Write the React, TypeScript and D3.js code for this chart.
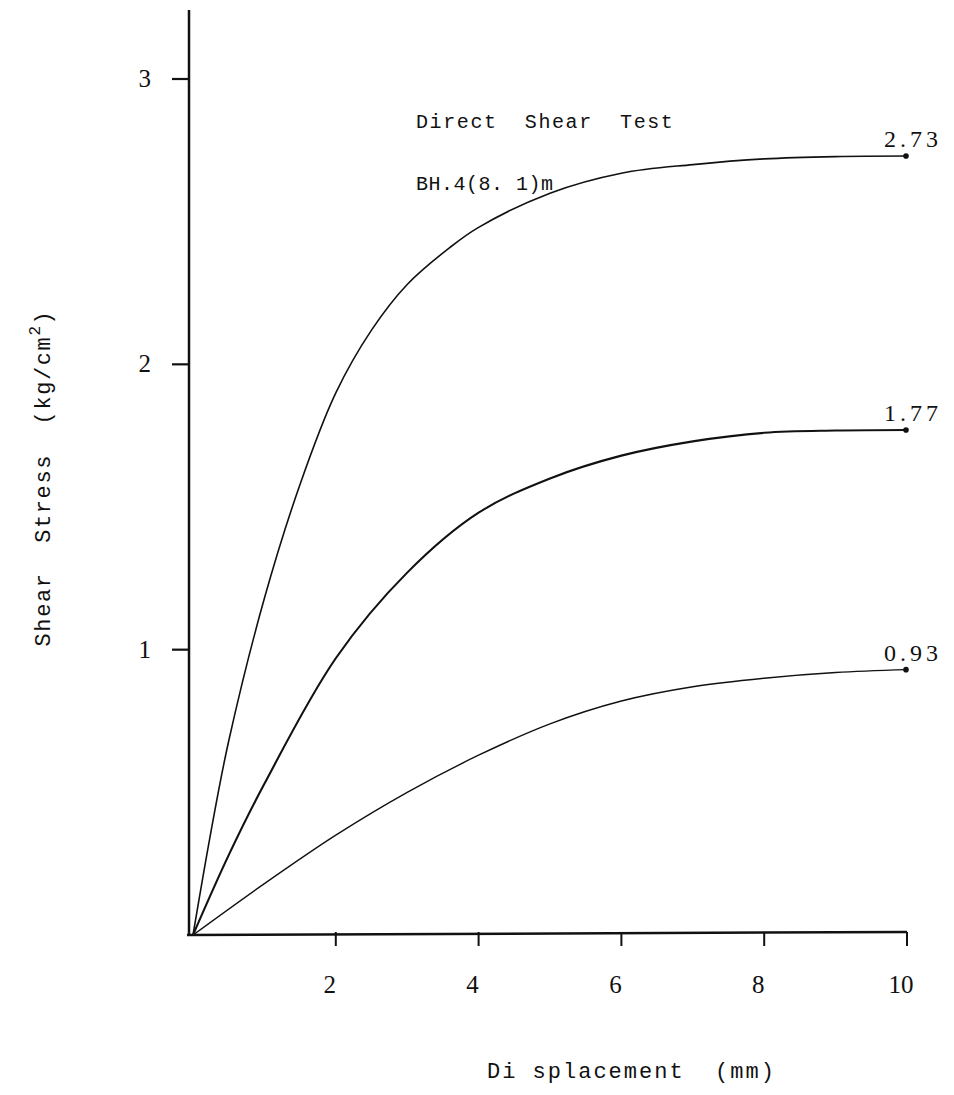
import React, { useEffect, useRef } from 'react';
import * as d3 from 'd3';

// displacement (mm) / shear stress (kg/cm2)
const topX = [0, 0.25, 0.5, 1, 1.5, 2, 2.5, 3, 3.6, 4, 5, 6, 7, 8, 9, 10];
const topY = [0, 0.36, 0.68, 1.18, 1.58, 1.9, 2.12, 2.28, 2.41, 2.48, 2.6, 2.67, 2.7, 2.72, 2.728, 2.73];

const midX = [0, 0.5, 1, 2, 3, 4, 5, 6, 7, 8, 9, 10];
const midY = [0, 0.28, 0.53, 0.97, 1.27, 1.48, 1.6, 1.68, 1.73, 1.76, 1.768, 1.77];

const lowX = [0, 1, 2, 3, 4, 5, 6, 7, 8, 9, 10];
const lowY = [0, 0.18, 0.35, 0.5, 0.63, 0.74, 0.82, 0.87, 0.9, 0.92, 0.93];

const endLabels = ['2.73', '1.77', '0.93'];
const xTicks = [2, 4, 6, 8, 10];
const yTicks = [1, 2, 3];

const W = 954;
const H = 1095;

export default function App() {
  const svgRef = useRef<SVGSVGElement>(null);

  useEffect(() => {
    if (!svgRef.current) return;
    const svg = d3.select(svgRef.current);
    svg.selectAll('*').remove();

    const x = d3.scaleLinear().domain([0, 10]).range([193, 907]);
    const y = d3.scaleLinear().domain([0, 3]).range([935, 79]);

    const ink = '#111';
    const mono = '"Liberation Mono", "Courier New", monospace';
    const serif = '"Liberation Serif", "Times New Roman", serif';

    // axes
    svg.append('line')
      .attr('x1', 189).attr('x2', 189)
      .attr('y1', y(0) + 1).attr('y2', 10)
      .attr('stroke', ink).attr('stroke-width', 2.5);
    svg.append('line')
      .attr('x1', 187).attr('x2', x(10))
      .attr('y1', y(0)).attr('y2', y(0) - 3)
      .attr('stroke', ink).attr('stroke-width', 2.5);

    xTicks.forEach(t => {
      svg.append('line')
        .attr('x1', x(t)).attr('x2', x(t))
        .attr('y1', y(0) - 3).attr('y2', y(0) + 11)
        .attr('stroke', ink).attr('stroke-width', 2);
      svg.append('text')
        .attr('x', x(t) - 6).attr('y', 993)
        .attr('text-anchor', 'middle')
        .style('font-family', serif)
        .style('font-size', '25px')
        .style('fill', ink)
        .text(t);
    });

    yTicks.forEach(t => {
      svg.append('line')
        .attr('x1', 172).attr('x2', 189)
        .attr('y1', y(t)).attr('y2', y(t))
        .attr('stroke', ink).attr('stroke-width', 2.2);
      svg.append('text')
        .attr('x', 151).attr('y', y(t) + 8)
        .attr('text-anchor', 'end')
        .style('font-family', serif)
        .style('font-size', '25px')
        .style('fill', ink)
        .text(t);
    });

    // curves
    const series = [
      { xs: topX, ys: topY, w: 1.6 },
      { xs: midX, ys: midY, w: 2.1 },
      { xs: lowX, ys: lowY, w: 1.4 },
    ];
    const line = d3.line<[number, number]>()
      .x(d => x(d[0]))
      .y(d => y(d[1]))
      .curve(d3.curveCatmullRom.alpha(0.5));

    series.forEach((s, i) => {
      const pts = s.xs.map((v, j) => [v, s.ys[j]] as [number, number]);
      svg.append('path')
        .attr('d', line(pts))
        .attr('fill', 'none')
        .attr('stroke', ink)
        .attr('stroke-width', s.w);
      const last = pts[pts.length - 1];
      svg.append('circle')
        .attr('cx', x(last[0]) - 1).attr('cy', y(last[1]))
        .attr('r', 2.8).attr('fill', ink);
      svg.append('text')
        .attr('x', 884).attr('y', y(last[1]) - 9)
        .style('font-family', serif)
        .style('font-size', '24px')
        .style('letter-spacing', '4px')
        .style('fill', ink)
        .text(endLabels[i]);
    });

    // annotations
    svg.append('text')
      .attr('x', 416).attr('y', 128)
      .style('font-family', mono)
      .style('font-size', '20px')
      .style('letter-spacing', '1.6px')
      .style('fill', ink)
      .attr('xml:space', 'preserve')
      .text('Direct  Shear  Test');
    svg.append('text')
      .attr('x', 416).attr('y', 190)
      .style('font-family', mono)
      .style('font-size', '20px')
      .style('letter-spacing', '0.5px')
      .style('fill', ink)
      .attr('xml:space', 'preserve')
      .text('BH.4(8. 1)m');

    svg.append('text')
      .attr('x', 487).attr('y', 1078)
      .style('font-family', mono)
      .style('font-size', '22px')
      .style('letter-spacing', '2px')
      .style('fill', ink)
      .attr('xml:space', 'preserve')
      .text('Di splacement  (mm)');

    const yl = svg.append('text')
      .attr('transform', 'translate(50,478) rotate(-90)')
      .attr('text-anchor', 'middle')
      .style('font-family', mono)
      .style('font-size', '22px')
      .style('letter-spacing', '1.6px')
      .style('fill', ink)
      .attr('xml:space', 'preserve');
    yl.append('tspan').text('Shear  Stress  (kg/cm');
    yl.append('tspan').attr('dy', -10).style('font-size', '16px').text('2');
    yl.append('tspan').attr('dy', 10).text(')');
  }, []);

  return (
    <svg
      ref={svgRef}
      width={W}
      height={H}
      viewBox={`0 0 ${W} ${H}`}
      style={{ position: 'absolute', left: 0, top: 0, background: '#fff' }}
    />
  );
}
